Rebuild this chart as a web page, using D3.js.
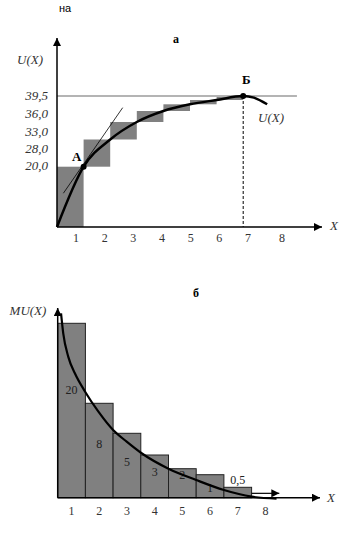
<!DOCTYPE html>
<html>
<head>
<meta charset="utf-8">
<script src="https://cdn.jsdelivr.net/npm/d3@7"></script>
<style>
    body { margin: 0; background: #fff; }
</style>
</head>
<body>
<div id="wrapper"></div>
<script>
// Данные: количество блага, общая и предельная полезность
const units = [1, 2, 3, 4, 5, 6, 7];
const totalUtility = [20, 28, 33, 36, 38, 39, 39.5];
const marginalUtility = [20, 8, 5, 3, 2, 1, 0.5];
const xTickLabels = ["1", "2", "3", "4", "5", "6", "7", "8"];
const uTickValues = [20, 28, 33, 36, 39.5];

// кривая U(X)
const curveUx = [0, 1, 2, 3, 4, 5, 6, 7, 7.4, 7.9];
const curveUy = [0, 20, 28, 33, 36, 38, 39, 39.5, 39.3, 38];
// касательная в точке A
const tangentX = [0.24, 2.47];
const tangentY = [11.2, 37.0];
// кривая MU(X)
const curveMUx = [0.12, 0.2, 0.38, 0.62, 0.99, 1.47, 2.0, 2.49, 3.03, 4, 5, 6, 7, 7.9];
const curveMUy = [21.5, 18.5, 15, 12.5, 9.74, 7.16, 5.33, 4.23, 3.16, 2, 0.79, 0.37, 0.05, -0.05];
// короткая стрелка у конца кривой MU
const tailArrowX = [7, 8];
const tailArrowY = [0.21, 0.21];

const serif = '"Liberation Serif", "Times New Roman", serif';
const fmt = d => d3.format(".1f")(d).replace(".", ",");

const svg = d3.select("#wrapper").append("svg")
    .attr("width", 353)
    .attr("height", 556);

svg.append("defs").append("marker")
    .attr("id", "arrow")
    .attr("viewBox", "0 0 10 10")
    .attr("refX", 10)
    .attr("refY", 5)
    .attr("markerUnits", "userSpaceOnUse")
    .attr("markerWidth", 10)
    .attr("markerHeight", 8)
    .attr("orient", "auto")
    .append("path")
    .attr("d", "M0,0 L10,5 L0,10 z")
    .attr("fill", "#000");

// ---------- график а ----------
const xTop = d3.scaleLinear().domain([0, 7]).range([57, 243.2]);
const yTop = d3.scaleLinear()
    .domain([0, 20, 28, 33, 36, 38, 39, 39.5])
    .range([227, 166.7, 139.5, 122, 111, 104.3, 100, 96]);
// подписи оси на рисунке стоят чуть иначе, чем ступеньки
const yTopLabel = d3.scaleLinear()
    .domain([20, 28, 33, 36, 39.5])
    .range([165, 148.3, 131.7, 113.3, 95]);
const xTopLabel = d3.scaleLinear().domain([1, 7, 8]).range([76, 248, 282]);

svg.append("text")
    .attr("x", 65).attr("y", 12)
    .attr("text-anchor", "middle")
    .style("font-family", '"Liberation Sans", Arial, sans-serif')
    .style("font-size", "11px")
    .text("на");

svg.append("text")
    .attr("x", 176).attr("y", 43)
    .attr("text-anchor", "middle")
    .style("font-family", serif)
    .style("font-weight", "bold")
    .style("font-size", "12px")
    .text("а");

// ступеньки приращения полезности
svg.append("g").selectAll("rect")
    .data(units)
    .join("rect")
    .attr("x", (d, i) => xTop(i))
    .attr("width", (d, i) => xTop(i + 1) - xTop(i))
    .attr("y", (d, i) => yTop(totalUtility[i]))
    .attr("height", (d, i) => yTop(i == 0 ? 0 : totalUtility[i - 1]) - yTop(totalUtility[i]))
    .attr("fill", "#808080");

// уровень насыщения
svg.append("line")
    .attr("x1", xTop(0)).attr("x2", xTop(9.02))
    .attr("y1", yTop(39.5)).attr("y2", yTop(39.5))
    .attr("stroke", "#b4b4b4")
    .attr("stroke-width", 2);

// пунктир из точки Б
svg.append("line")
    .attr("x1", xTop(7)).attr("x2", xTop(7))
    .attr("y1", yTop(39.5)).attr("y2", yTop(0))
    .attr("stroke", "#000")
    .attr("stroke-width", 1)
    .attr("stroke-dasharray", "3,2");

// оси
svg.append("line")
    .attr("x1", xTop(0)).attr("x2", xTop(0))
    .attr("y1", yTop(0)).attr("y2", 38)
    .attr("stroke", "#000").attr("stroke-width", 1.5)
    .attr("marker-end", "url(#arrow)");
svg.append("line")
    .attr("x1", xTop(0)).attr("x2", 322)
    .attr("y1", yTop(0)).attr("y2", yTop(0))
    .attr("stroke", "#000").attr("stroke-width", 1.5)
    .attr("marker-end", "url(#arrow)");

svg.append("g").selectAll("text")
    .data(uTickValues)
    .join("text")
    .attr("x", xTop(0) - 9)
    .attr("y", d => yTopLabel(d))
    .attr("dy", "0.35em")
    .attr("text-anchor", "end")
    .style("font-family", serif)
    .style("font-style", "italic")
    .style("font-size", "13px")
    .attr("fill", "#333")
    .text(fmt);

svg.append("g").selectAll("text")
    .data(xTickLabels)
    .join("text")
    .attr("x", (d, i) => xTopLabel(i + 1))
    .attr("y", 242)
    .attr("text-anchor", "middle")
    .style("font-family", serif)
    .style("font-size", "12px")
    .attr("fill", "#333")
    .text(d => d);

svg.append("text")
    .attr("x", 30).attr("y", 64)
    .attr("text-anchor", "middle")
    .style("font-family", serif)
    .style("font-style", "italic")
    .style("font-size", "13px")
    .attr("fill", "#333")
    .text("U(X)");
svg.append("text")
    .attr("x", 334).attr("y", 230)
    .attr("text-anchor", "middle")
    .style("font-family", serif)
    .style("font-style", "italic")
    .style("font-size", "13px")
    .attr("fill", "#333")
    .text("X");

// касательная
const tangentLine = d3.line()
    .x((d, i) => xTop(tangentX[i]))
    .y((d, i) => yTop(d));
svg.append("path")
    .attr("d", tangentLine(tangentY))
    .attr("fill", "none")
    .attr("stroke", "#000")
    .attr("stroke-width", 0.8);

// кривая общей полезности
const uLine = d3.line()
    .x((d, i) => xTop(curveUx[i]))
    .y(d => yTop(d))
    .curve(d3.curveMonotoneX);
svg.append("path")
    .attr("d", uLine(curveUy))
    .attr("fill", "none")
    .attr("stroke", "#000")
    .attr("stroke-width", 2.5);

svg.append("circle")
    .attr("cx", xTop(1)).attr("cy", yTop(20)).attr("r", 3);
svg.append("circle")
    .attr("cx", xTop(7)).attr("cy", yTop(39.5)).attr("r", 3);

svg.append("text")
    .attr("x", xTop(1) - 7).attr("y", yTop(20) - 6)
    .attr("text-anchor", "middle")
    .style("font-family", serif)
    .style("font-weight", "bold")
    .style("font-size", "13px")
    .text("А");
svg.append("text")
    .attr("x", xTop(7) + 3).attr("y", yTop(39.5) - 12)
    .attr("text-anchor", "middle")
    .style("font-family", serif)
    .style("font-weight", "bold")
    .style("font-size", "13px")
    .text("Б");
svg.append("text")
    .attr("x", 271).attr("y", 122)
    .attr("text-anchor", "middle")
    .style("font-family", serif)
    .style("font-style", "italic")
    .style("font-size", "13px")
    .attr("fill", "#333")
    .text("U(X)");

// ---------- график б ----------
const xBot = d3.scaleLinear().domain([0, 7]).range([57.7, 251.6]);
const yBot = d3.scaleLinear()
    .domain([0, 0.5, 1, 2, 3, 5, 8, 20])
    .range([497.7, 487.3, 474.7, 468.7, 455, 433.3, 403.3, 323.3]);

svg.append("text")
    .attr("x", 196).attr("y", 297)
    .attr("text-anchor", "middle")
    .style("font-family", serif)
    .style("font-weight", "bold")
    .style("font-size", "12px")
    .text("б");

svg.append("g").selectAll("rect")
    .data(marginalUtility)
    .join("rect")
    .attr("x", (d, i) => xBot(i))
    .attr("width", (d, i) => xBot(i + 1) - xBot(i))
    .attr("y", d => yBot(d))
    .attr("height", d => yBot(0) - yBot(d))
    .attr("fill", "#808080")
    .attr("stroke", "#222")
    .attr("stroke-width", 1);

svg.append("g").selectAll("text")
    .data(marginalUtility)
    .join("text")
    .attr("x", (d, i) => xBot(i + 0.5))
    .attr("y", d => d < 1 ? yBot(d) - 8 : yBot(d / 2))
    .attr("dy", "0.35em")
    .attr("text-anchor", "middle")
    .style("font-family", serif)
    .style("font-size", "12px")
    .attr("fill", "#222")
    .text(d => String(d).replace(".", ","));

svg.append("line")
    .attr("x1", xBot(0)).attr("x2", xBot(0))
    .attr("y1", yBot(0)).attr("y2", 308)
    .attr("stroke", "#000").attr("stroke-width", 1.5)
    .attr("marker-end", "url(#arrow)");
svg.append("line")
    .attr("x1", xBot(0)).attr("x2", 320)
    .attr("y1", yBot(0)).attr("y2", yBot(0))
    .attr("stroke", "#000").attr("stroke-width", 1.5)
    .attr("marker-end", "url(#arrow)");

svg.append("g").selectAll("text")
    .data(xTickLabels)
    .join("text")
    .attr("x", (d, i) => xBot(i + 0.5))
    .attr("y", 515)
    .attr("text-anchor", "middle")
    .style("font-family", serif)
    .style("font-size", "12px")
    .attr("fill", "#333")
    .text(d => d);

const muLine = d3.line()
    .x((d, i) => xBot(curveMUx[i]))
    .y(d => yBot(d))
    .curve(d3.curveMonotoneX);
svg.append("path")
    .attr("d", muLine(curveMUy))
    .attr("fill", "none")
    .attr("stroke", "#000")
    .attr("stroke-width", 2.2);

const tailLine = d3.line()
    .x((d, i) => xBot(tailArrowX[i]))
    .y(d => yBot(d));
svg.append("path")
    .attr("d", tailLine(tailArrowY))
    .attr("fill", "none")
    .attr("stroke", "#000")
    .attr("stroke-width", 1.2)
    .attr("marker-end", "url(#arrow)");

svg.append("text")
    .attr("x", 28).attr("y", 315)
    .attr("text-anchor", "middle")
    .style("font-family", serif)
    .style("font-style", "italic")
    .style("font-size", "13px")
    .attr("fill", "#333")
    .text("MU(X)");
svg.append("text")
    .attr("x", 331).attr("y", 502)
    .attr("text-anchor", "middle")
    .style("font-family", serif)
    .style("font-style", "italic")
    .style("font-size", "13px")
    .attr("fill", "#333")
    .text("X");
</script>
</body>
</html>
